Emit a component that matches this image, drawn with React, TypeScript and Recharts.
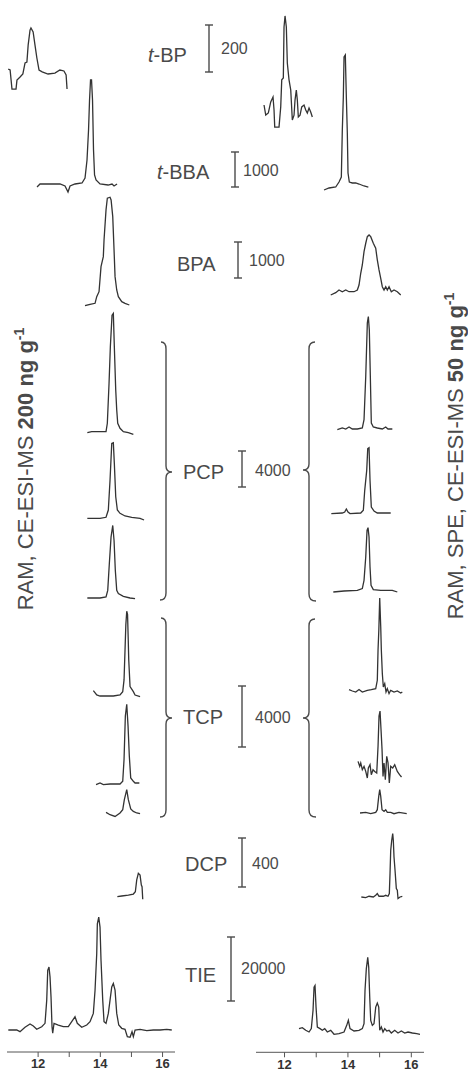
import React from "react";
import { LineChart, Line, XAxis, YAxis } from "recharts";

type Pt = [number, number];

// ---------- data (time in min, intensity in counts) ----------
const tBP_L: Pt[] = [[11.04,21],[11.10,17],[11.16,-64],[11.29,-64],[11.32,-26],[11.42,-13],[11.51,0],[11.58,47],[11.64,51],[11.68,123],[11.74,187],[11.77,196],[11.84,179],[11.90,123],[11.96,68],[12.03,17],[12.13,9],[12.32,0],[12.54,4],[12.70,17],[12.83,13],[12.90,-4],[12.93,-64]];
const tBP_R: Pt[] = [[11.353,34],[11.407,-9],[11.489,0],[11.565,47],[11.637,68],[11.669,13],[11.691,-60],[11.826,-60],[11.880,26],[11.912,141],[11.962,149],[11.984,366],[12.016,413],[12.057,366],[12.088,213],[12.142,141],[12.196,98],[12.246,-30],[12.300,-9],[12.331,55],[12.372,98],[12.404,55],[12.435,-17],[12.489,-9],[12.543,26],[12.615,34],[12.669,13],[12.719,0],[12.773,21],[12.826,4],[12.877,-17]];
const tBBA_L: Pt[] = [[11.965,-86],[12.061,0],[12.704,0],[12.865,-57],[12.961,-229],[13.026,-57],[13.186,0],[13.412,29],[13.508,172],[13.572,686],[13.621,1544],[13.653,2402],[13.685,2974],[13.717,2974],[13.749,2402],[13.781,972],[13.814,257],[13.862,114],[13.990,0],[14.248,-29],[14.376,0],[14.441,-57],[14.537,0]];
const tBBA_R: Pt[] = [[13.246,-114],[13.404,-57],[13.615,-29],[13.719,114],[13.792,257],[13.823,1601],[13.855,2545],[13.877,3689],[13.918,3746],[13.950,2545],[13.981,1515],[14.003,372],[14.044,114],[14.139,86],[14.246,86],[14.350,57],[14.508,0],[14.644,-29]];
const BPA_L: Pt[] = [[13.508,-19],[13.669,19],[13.830,47],[13.884,231],[13.958,370],[14.022,1065],[14.096,1343],[14.119,1807],[14.183,2641],[14.225,2966],[14.312,2994],[14.346,2919],[14.399,2455],[14.441,1529],[14.473,788],[14.527,417],[14.579,231],[14.688,92],[14.794,47],[14.932,0]];
const BPA_R: Pt[] = [[13.457,-83],[13.615,-19],[13.719,56],[13.823,8],[13.931,56],[14.035,8],[14.192,8],[14.297,56],[14.350,195],[14.404,520],[14.454,751],[14.508,1120],[14.562,1354],[14.612,1537],[14.666,1585],[14.719,1537],[14.801,1354],[14.877,1215],[14.927,890],[14.981,612],[15.035,381],[15.085,147],[15.139,56],[15.192,147],[15.243,56],[15.297,147],[15.369,8],[15.454,56],[15.558,8],[15.666,-83]];
const PCP1_L: Pt[] = [[13.582,-78],[13.723,33],[13.990,33],[14.183,33],[14.225,966],[14.280,5406],[14.322,9469],[14.376,12987],[14.418,13176],[14.450,9469],[14.495,4662],[14.527,2442],[14.559,966],[14.633,411],[14.740,33],[14.900,-78],[15.061,-255]];
const PCP2_L: Pt[] = [[13.582,-33],[13.990,-33],[14.183,78],[14.257,888],[14.312,4218],[14.367,8292],[14.418,8358],[14.450,6072],[14.495,2364],[14.547,888],[14.633,522],[14.794,222],[15.010,78],[15.277,-33],[15.405,-222]];
const PCP3_L: Pt[] = [[13.582,0],[13.990,0],[14.183,111],[14.238,844],[14.289,3808],[14.344,6761],[14.399,8059],[14.441,6394],[14.482,3064],[14.527,844],[14.579,488],[14.740,189],[14.955,0],[15.116,-78]];
const PCP1_R: Pt[] = [[13.666,-78],[13.823,111],[13.931,0],[14.035,222],[14.139,0],[14.297,0],[14.454,111],[14.508,1032],[14.562,5839],[14.612,11766],[14.644,12499],[14.675,10989],[14.707,5839],[14.738,666],[14.801,222],[14.927,111],[15.085,0],[15.192,222],[15.265,0],[15.401,0]];
const PCP2_R: Pt[] = [[13.476,-67],[13.823,0],[13.899,111],[13.950,444],[14.003,111],[14.066,-67],[14.404,0],[14.486,300],[14.530,2520],[14.593,4740],[14.625,7156],[14.666,7259],[14.697,3630],[14.738,666],[14.823,222],[14.927,0],[15.139,0],[15.350,0]];
const PCP3_R: Pt[] = [[13.539,-111],[13.877,0],[14.297,78],[14.454,266],[14.508,1188],[14.562,3774],[14.603,6738],[14.634,7037],[14.666,5994],[14.697,2664],[14.729,633],[14.801,155],[15.035,78],[15.401,78],[15.558,-111]];
const TCP1_L: Pt[] = [[13.775,349],[13.884,66],[13.990,0],[14.418,0],[14.633,66],[14.720,283],[14.762,1054],[14.794,3031],[14.820,4679],[14.849,5556],[14.875,5338],[14.897,3690],[14.913,2372],[14.955,613],[15.061,283],[15.116,66],[15.277,-46]];
const TCP2_L: Pt[] = [[13.862,-46],[13.990,66],[14.096,-46],[14.312,0],[14.633,0],[14.720,178],[14.762,1601],[14.804,4454],[14.849,5226],[14.891,3796],[14.932,1819],[14.977,396],[15.061,178],[15.116,66],[15.254,66]];
const TCP3_L: Pt[] = [[14.183,40],[14.312,-112],[14.473,-224],[14.633,0],[14.720,217],[14.772,876],[14.849,1535],[14.900,876],[14.977,264],[15.061,105],[15.170,0],[15.277,-46]];
const TCP1_R: Pt[] = [[14.035,92],[14.139,0],[14.246,-66],[14.350,92],[14.454,-66],[14.612,46],[14.738,92],[14.877,158],[14.927,705],[14.950,2682],[14.975,4000],[15.003,6089],[15.035,4218],[15.054,2682],[15.085,1147],[15.117,264],[15.161,488],[15.202,-66],[15.243,158],[15.297,-171],[15.350,46],[15.454,-66],[15.558,0],[15.666,-132],[15.716,-66]];
const TCP2_R: Pt[] = [[14.319,764],[14.372,435],[14.404,659],[14.454,217],[14.508,435],[14.562,105],[14.612,-330],[14.644,330],[14.697,547],[14.738,-112],[14.792,217],[14.845,105],[14.909,0],[14.950,1753],[14.981,3730],[15.013,4059],[15.044,2853],[15.076,1535],[15.107,-224],[15.139,659],[15.180,-442],[15.224,1094],[15.265,659],[15.306,-659],[15.350,435],[15.413,330],[15.476,547],[15.558,105],[15.628,-112],[15.691,-264]];
const TCP3_R: Pt[] = [[14.382,0],[14.562,40],[14.719,-46],[14.877,40],[14.927,217],[14.972,1094],[15.003,1535],[15.035,1094],[15.076,217],[15.139,105],[15.192,217],[15.243,40],[15.350,40],[15.454,-46],[15.612,40],[15.855,-46]];
const DCP_L: Pt[] = [[14.547,-5],[14.688,0],[14.900,8],[15.061,16],[15.125,35],[15.170,131],[15.222,185],[15.277,171],[15.318,90],[15.341,76],[15.363,-27]];
const DCP_R: Pt[] = [[14.423,0],[14.562,-5],[14.666,6],[14.801,0],[14.877,14],[14.927,28],[14.981,6],[15.117,6],[15.192,14],[15.265,6],[15.306,28],[15.328,191],[15.350,381],[15.382,463],[15.413,517],[15.432,463],[15.454,326],[15.486,218],[15.527,69],[15.558,55],[15.580,-13],[15.644,0],[15.716,6]];
const TIE_L: Pt[] = [[11.042,0],[11.312,0],[11.418,-529],[11.579,840],[11.740,1866],[11.846,1244],[11.955,218],[12.116,1026],[12.222,2084],[12.277,9330],[12.309,18660],[12.350,19697],[12.383,16587],[12.415,10357],[12.447,1026],[12.469,-1026],[12.511,2084],[12.650,1555],[12.810,1026],[12.971,1026],[13.113,3110],[13.186,4137],[13.260,2084],[13.402,840],[13.563,1555],[13.669,2581],[13.775,5194],[13.830,12440],[13.884,23854],[13.904,33184],[13.949,35267],[13.990,32157],[14.022,21770],[14.077,9330],[14.119,2581],[14.183,2084],[14.257,5194],[14.312,9330],[14.367,13466],[14.418,14523],[14.473,12440],[14.527,5194],[14.592,1555],[14.688,529],[14.794,218],[14.868,-2084],[14.955,-2270],[15.019,-529],[15.061,-2084],[15.116,0],[15.277,218],[15.492,-218],[15.704,0],[15.920,0],[16.135,218],[16.296,0]];
const TIE_R: Pt[] = [[12.457,1368],[12.562,1679],[12.669,840],[12.773,311],[12.845,1368],[12.899,7060],[12.931,14306],[12.962,14835],[12.994,8086],[13.035,1866],[13.120,1368],[13.192,840],[13.268,1368],[13.350,311],[13.457,840],[13.562,-404],[13.719,-187],[13.877,311],[13.962,2395],[14.013,3950],[14.066,1368],[14.192,622],[14.350,840],[14.454,1368],[14.508,2923],[14.539,13280],[14.580,20028],[14.625,23636],[14.656,20526],[14.688,11196],[14.719,3950],[14.770,2395],[14.823,2923],[14.877,8086],[14.927,9330],[14.972,8086],[15.003,840],[15.054,1866],[15.107,311],[15.161,1368],[15.224,622],[15.297,840],[15.369,0],[15.476,840],[15.580,0],[15.685,622],[15.792,0],[15.896,311],[16.032,0],[16.170,-187],[16.274,-404]];

const compounds = ["t-BP", "t-BBA", "BPA", "PCP", "TCP", "DCP", "TIE"];
const scaleValues = [200, 1000, 1000, 4000, 4000, 400, 20000];
const xTicks = [12, 13, 14, 15, 16];

// ---------- layout ----------
const FONT = "'Liberation Sans', Arial, Helvetica, sans-serif";
const LINE = "#333";
const TEXT = "#4a4a4a";
const AXIS_Y = 1052;
const COLS = {
  L: { left: 7, width: 168, domain: [11, 16.4] as [number, number] },
  R: { left: 256, width: 168, domain: [11.1, 16.4] as [number, number] },
};
// per compound: label x/y, scale bar x / y1 / y2, scale text x/y
const LAYOUT = [
  { lx: 148, ly: 55, bx: 209, by1: 25, by2: 72, sx: 221, sy: 48 },
  { lx: 157, ly: 172, bx: 235, by1: 152, by2: 187, sx: 243, sy: 170 },
  { lx: 177, ly: 264, bx: 238, by1: 242, by2: 278, sx: 249, sy: 260 },
  { lx: 183, ly: 472, bx: 242, by1: 451, by2: 487, sx: 255, sy: 470 },
  { lx: 183, ly: 717, bx: 242, by1: 686, by2: 747, sx: 255, sy: 717 },
  { lx: 185, ly: 864, bx: 242, by1: 838, by2: 887, sx: 252, sy: 863 },
  { lx: 185, ly: 975, bx: 231, by1: 937, by2: 1001, sx: 241, sy: 968 },
];
const kOf = (i: number) => scaleValues[i] / (LAYOUT[i].by2 - LAYOUT[i].by1);

const TRACES: { data: Pt[]; col: "L" | "R"; base: number; c: number; axis?: boolean }[] = [
  { data: tBP_L, col: "L", base: 74, c: 0 },
  { data: tBP_R, col: "R", base: 113, c: 0 },
  { data: tBBA_L, col: "L", base: 184, c: 1 },
  { data: tBBA_R, col: "R", base: 186, c: 1 },
  { data: BPA_L, col: "L", base: 305, c: 2 },
  { data: BPA_R, col: "R", base: 292, c: 2 },
  { data: PCP1_L, col: "L", base: 432, c: 3 },
  { data: PCP2_L, col: "L", base: 518, c: 3 },
  { data: PCP3_L, col: "L", base: 597.7, c: 3 },
  { data: PCP1_R, col: "R", base: 429.3, c: 3 },
  { data: PCP2_R, col: "R", base: 512.7, c: 3 },
  { data: PCP3_R, col: "R", base: 590.7, c: 3 },
  { data: TCP1_L, col: "L", base: 696, c: 4 },
  { data: TCP2_L, col: "L", base: 784.3, c: 4 },
  { data: TCP3_L, col: "L", base: 813.3, c: 4 },
  { data: TCP1_R, col: "R", base: 690.7, c: 4 },
  { data: TCP2_R, col: "R", base: 773.3, c: 4 },
  { data: TCP3_R, col: "R", base: 813.3, c: 4 },
  { data: DCP_L, col: "L", base: 896, c: 5 },
  { data: DCP_R, col: "R", base: 896.7, c: 5 },
  { data: TIE_L, col: "L", base: 1030, c: 6, axis: true },
  { data: TIE_R, col: "R", base: 1032.7, c: 6, axis: true },
];

function Trace({ data, col, base, c, axis }: { data: Pt[]; col: "L" | "R"; base: number; c: number; axis?: boolean }) {
  const k = kOf(c);
  const C = COLS[col];
  const vals = data.map((d) => d[1]);
  const above = Math.ceil(Math.max(0, ...vals) / k) + 3;
  const below = axis ? AXIS_Y - base : Math.ceil(-Math.min(0, ...vals) / k) + 3;
  const axisH = axis ? 30 : 0;
  const height = above + below + axisH;
  const rows = data.map(([t, v]) => ({ t, v }));
  return (
    <div style={{ position: "absolute", left: C.left, top: base - above, width: C.width, height }}>
      <LineChart width={C.width} height={height} data={rows} margin={{ top: 0, right: 0, bottom: 0, left: 0 }}>
        <XAxis
          type="number"
          dataKey="t"
          domain={C.domain}
          allowDataOverflow
          hide={!axis}
          height={axisH || 1}
          ticks={xTicks}
          interval={0}
          tickSize={5}
          stroke="#555"
          tickFormatter={(v: number) => (v % 2 === 0 ? String(v) : "")}
          tick={{ fontSize: 13, fontWeight: "bold", fill: "#333", fontFamily: FONT }}
        />
        <YAxis type="number" domain={[-below * k, above * k]} allowDataOverflow hide width={0} />
        <Line type="linear" dataKey="v" stroke={LINE} strokeWidth={1.3} dot={false} isAnimationActive={false} />
      </LineChart>
    </div>
  );
}

function braceRight(x: number, y1: number, ym: number, y2: number) {
  return `M ${x - 5} ${y1} Q ${x} ${y1} ${x} ${y1 + 7} L ${x} ${ym - 6} Q ${x} ${ym} ${x + 6} ${ym} Q ${x} ${ym} ${x} ${ym + 6} L ${x} ${y2 - 7} Q ${x} ${y2} ${x - 6} ${y2}`;
}
function braceLeft(x: number, y1: number, ym: number, y2: number) {
  return `M ${x + 6} ${y1} Q ${x} ${y1} ${x} ${y1 + 7} L ${x} ${ym - 6} Q ${x} ${ym} ${x - 6} ${ym} Q ${x} ${ym} ${x} ${ym + 6} L ${x} ${y2 - 7} Q ${x} ${y2} ${x + 7} ${y2}`;
}

export default function App() {
  return (
    <div style={{ position: "absolute", left: 0, top: 0, width: 468, height: 1076, background: "#fff", overflow: "hidden" }}>
      {TRACES.map((tr, i) => (
        <Trace key={i} {...tr} />
      ))}
      <svg width={468} height={1076} style={{ position: "absolute", left: 0, top: 0, pointerEvents: "none" }} fontFamily={FONT}>
        {LAYOUT.map((L, i) => (
          <g key={i}>
            <text x={L.lx} y={L.ly} fontSize={20} fill={TEXT} dominantBaseline="central">
              {compounds[i].startsWith("t-") ? (
                <>
                  <tspan fontStyle="italic">t</tspan>
                  {compounds[i].slice(1)}
                </>
              ) : (
                compounds[i]
              )}
            </text>
            <line x1={L.bx} x2={L.bx} y1={L.by1} y2={L.by2} stroke={TEXT} strokeWidth={1.4} />
            <line x1={L.bx - 4} x2={L.bx + 4} y1={L.by1} y2={L.by1} stroke={TEXT} strokeWidth={1.4} />
            <line x1={L.bx - 4} x2={L.bx + 4} y1={L.by2} y2={L.by2} stroke={TEXT} strokeWidth={1.4} />
            <text x={L.sx} y={L.sy} fontSize={16} fill={TEXT} dominantBaseline="central">
              {String(scaleValues[i])}
            </text>
          </g>
        ))}
        <path d={braceRight(166, 342, 472, 600)} fill="none" stroke={TEXT} strokeWidth={1.4} />
        <path d={braceRight(166, 618, 718, 817)} fill="none" stroke={TEXT} strokeWidth={1.4} />
        <path d={braceLeft(309, 342, 470, 601)} fill="none" stroke={TEXT} strokeWidth={1.4} />
        <path d={braceLeft(309, 619, 718, 817)} fill="none" stroke={TEXT} strokeWidth={1.4} />
        <text x={33} y={469} transform="rotate(-90 33 469)" textAnchor="middle" fontSize={22} fill={TEXT}>
          RAM, CE-ESI-MS <tspan fontWeight="bold">200 ng g</tspan>
          <tspan fontWeight="bold" fontSize={14} dy={-9}>-1</tspan>
        </text>
        <text x={463} y={456} transform="rotate(-90 463 456)" textAnchor="middle" fontSize={22} fill={TEXT}>
          RAM, SPE, CE-ESI-MS <tspan fontWeight="bold">50 ng g</tspan>
          <tspan fontWeight="bold" fontSize={14} dy={-9}>-1</tspan>
        </text>
      </svg>
    </div>
  );
}
